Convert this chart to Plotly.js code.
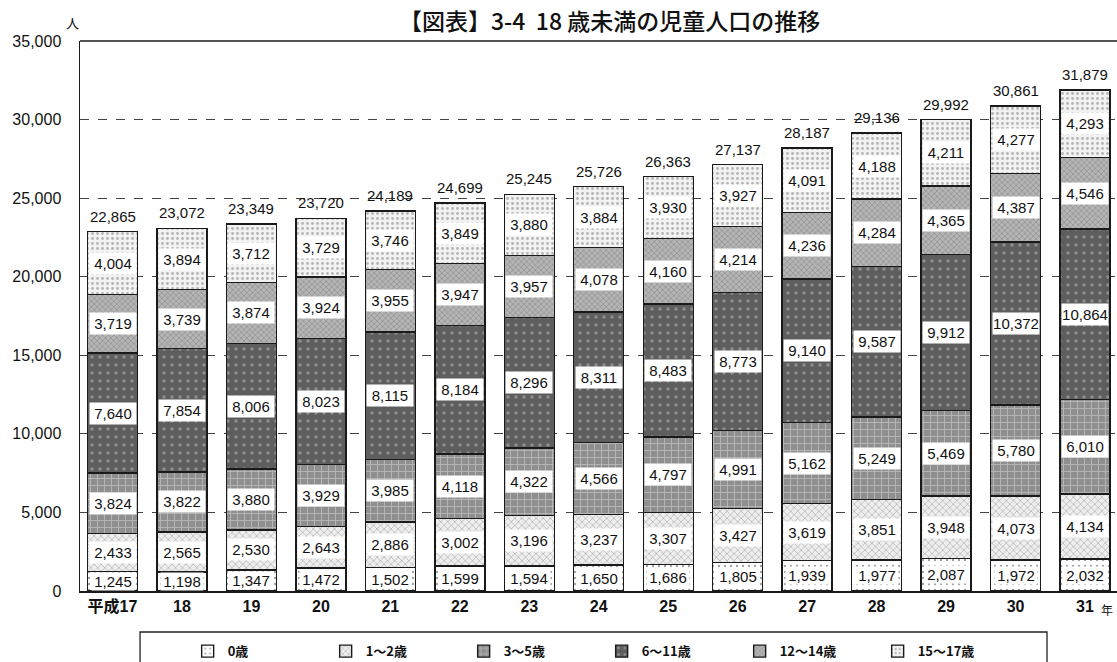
<!DOCTYPE html>
<html><head><meta charset="utf-8">
<script src="https://cdn.plot.ly/plotly-3.0.1.min.js"></script>
<style>html,body{margin:0;padding:0;background:#fff;}#chart{width:1117px;height:662px;}</style>
</head><body><div id="chart"></div>
<script>
const years = ["平成17","18","19","20","21","22","23","24","25","26","27","28","29","30","31"];
const seriesNames = ["0歳","1～2歳","3～5歳","6～11歳","12～14歳","15～17歳"];
const age0 = [1245,1198,1347,1472,1502,1599,1594,1650,1686,1805,1939,1977,2087,1972,2032];
const age1_2 = [2433,2565,2530,2643,2886,3002,3196,3237,3307,3427,3619,3851,3948,4073,4134];
const age3_5 = [3824,3822,3880,3929,3985,4118,4322,4566,4797,4991,5162,5249,5469,5780,6010];
const age6_11 = [7640,7854,8006,8023,8115,8184,8296,8311,8483,8773,9140,9587,9912,10372,10864];
const age12_14 = [3719,3739,3874,3924,3955,3947,3957,4078,4160,4214,4236,4284,4365,4387,4546];
const age15_17 = [4004,3894,3712,3729,3746,3849,3880,3884,3930,3927,4091,4188,4211,4277,4293];
const totals = [22865,23072,23349,23720,24189,24699,25245,25726,26363,27137,28187,29136,29992,30861,31879];

const seriesValues = [age0, age1_2, age3_5, age6_11, age12_14, age15_17];
const patterns = [
  {shape: ".", bgcolor: "#ffffff", fgcolor: "#444444", size: 6, solidity: 0.12},
  {shape: "x", bgcolor: "#eeeeee", fgcolor: "#888888", size: 5, solidity: 0.3},
  {shape: "+", bgcolor: "#8f8f8f", fgcolor: "#dddddd", size: 7, solidity: 0.25},
  {shape: ".", bgcolor: "#5e5e5e", fgcolor: "#bdbdbd", size: 8, solidity: 0.15},
  {shape: "x", bgcolor: "#b5b5b5", fgcolor: "#707070", size: 4, solidity: 0.35},
  {shape: ".", bgcolor: "#f2f2f2", fgcolor: "#777777", size: 5, solidity: 0.25}
];

const traces = seriesValues.map((vals, i) => ({
  type: "bar",
  name: seriesNames[i],
  x: years,
  y: vals,
  marker: {color: patterns[i].bgcolor, pattern: Object.assign({fillmode: "overlay"}, patterns[i]),
           line: {color: "#1a1a1a", width: 1.4}},
  hoverinfo: "skip"
}));

const fmt = v => v.toLocaleString("en-US");
const numFont = {family: "Liberation Sans, Arial, sans-serif", size: 15, color: "#111"};
const annotations = [];
const base = years.map(() => 0);
seriesValues.forEach((vals, i) => {
  vals.forEach((v, j) => {
    annotations.push({
      x: j, y: base[j] + v / 2, xref: "x", yref: "y",
      text: fmt(v), showarrow: false, bgcolor: "#ffffff",
      width: i === 0 ? 42 : 46, height: i === 0 ? 17 : 21, borderpad: 0,
      font: numFont
    });
    base[j] += v;
  });
});
totals.forEach((t, j) => {
  annotations.push({
    x: j, y: base[j], xref: "x", yref: "y", yanchor: "bottom", yshift: 5,
    text: fmt(t), showarrow: false, font: numFont
  });
});
annotations.push({xref: "paper", yref: "paper", x: 0.511, y: 1.0709, yanchor: "top", xanchor: "center",
  text: "【図表】3-4  18 歳未満の児童人口の推移", showarrow: false, borderpad: 0,
  font: {family: "Noto Sans CJK JP", size: 23, weight: 500, color: "#111"}});
annotations.push({xref: "paper", yref: "paper", x: -0.0077, y: 1.0345, text: "人", showarrow: false,
  xanchor: "center", yanchor: "middle", font: {family: "Noto Sans CJK JP", size: 13, color: "#111"}});
annotations.push({xref: "paper", yref: "paper", x: 0.990, y: -0.0345, text: "年", showarrow: false,
  xanchor: "center", yanchor: "middle", font: {family: "Noto Sans CJK JP", size: 12, color: "#111"}});

const layout = {
  width: 1117, height: 662,
  margin: {l: 80, r: 0, t: 41, b: 71},
  paper_bgcolor: "#ffffff", plot_bgcolor: "#ffffff",
  barmode: "stack", bargap: 0.28,
  xaxis: {type: "category", showline: true, linecolor: "#1a1a1a", linewidth: 1.5, ticks: "",
          tickfont: {family: "Liberation Sans, Noto Sans CJK JP", size: 16, weight: "bold", color: "#111"},
          range: [-0.468, 14.461]},
  yaxis: {range: [0, 35000], dtick: 5000, tickformat: ",d", showline: true, linecolor: "#1a1a1a", linewidth: 1.5,
          gridcolor: "#444", griddash: "dash", gridwidth: 1, zeroline: false, ticklabelstandoff: 14,
          tickfont: {family: "Liberation Sans, Arial", size: 16, color: "#111"}, ticks: ""},
  shapes: [
    {type: "line", xref: "paper", yref: "paper", x0: 0, x1: 1, y0: 1, y1: 1, line: {color: "#1a1a1a", width: 1.5}},
    {type: "rect", xref: "paper", yref: "paper", x0: 0.0579, x1: 0.9325, y0: -0.0745, y1: -0.25,
     line: {color: "#222", width: 1.3}, fillcolor: "rgba(0,0,0,0)"}
  ],
  legend: {orientation: "h", xref: "container", yref: "container", x: 0.168, xanchor: "left", y: 0.039, yanchor: "top",
           borderwidth: 0, entrywidth: 93, traceorder: "normal", bgcolor: "rgba(0,0,0,0)",
           font: {family: "Noto Sans CJK JP", size: 13, weight: "bold", color: "#111"}, itemwidth: 30},
  annotations: annotations,
  showlegend: true
};

Plotly.newPlot("chart", traces, layout, {staticPlot: true});
</script></body></html>
